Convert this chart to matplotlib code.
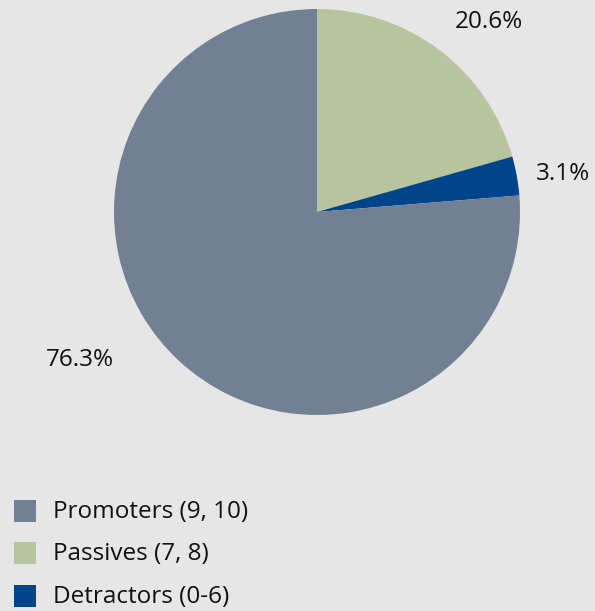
import matplotlib
matplotlib.use("Agg")
import matplotlib.pyplot as plt
from matplotlib.patches import Rectangle

# data (clockwise from top)
categories = ["Passives (7, 8)", "Detractors (0-6)", "Promoters (9, 10)"]
values = [20.6, 3.1, 76.3]
colors = ["#b8c49e", "#00448a", "#718092"]
pct_labels = ["20.6%", "3.1%", "76.3%"]
legend_order = ["Promoters (9, 10)", "Passives (7, 8)", "Detractors (0-6)"]

plt.rcParams['font.family'] = ['Open Sans', 'DejaVu Sans']
BG = "#e6e6e6"
W, H = 595, 611
fig = plt.figure(figsize=(W / 100, H / 100), dpi=100, facecolor=BG)

cx, cy, r = 317, 212, 203
ax = fig.add_axes([(cx - r) / W, (H - (cy + r)) / H, 2 * r / W, 2 * r / H])
ax.set_facecolor(BG)
ax.pie(values, colors=colors, startangle=90, counterclock=False,
       wedgeprops=dict(linewidth=0), radius=1)
ax.set_xlim(-1, 1)
ax.set_ylim(-1, 1)
ax.set_aspect('auto')
ax.axis('off')

FS = 17.5
label_pos = [(0.847, 0.936), (1.212, 0.187), (-1.167, -0.729)]
for (x, y), t in zip(label_pos, pct_labels):
    ax.text(x, y, t, ha='center', va='center', fontsize=FS, color='#111111',
            clip_on=False)

# legend
rows_y = [511, 553, 596]
for name, ypix in zip(legend_order, rows_y):
    c = colors[categories.index(name)]
    fig.patches.append(Rectangle((14 / W, (H - ypix - 11) / H), 22 / W, 22 / H,
                                 transform=fig.transFigure, facecolor=c,
                                 edgecolor='none'))
    fig.text(53 / W, (H - ypix - 1) / H, name, ha='left', va='center',
             fontsize=FS, color='#111111')

fig.savefig("out.png", dpi=100, facecolor=BG)
